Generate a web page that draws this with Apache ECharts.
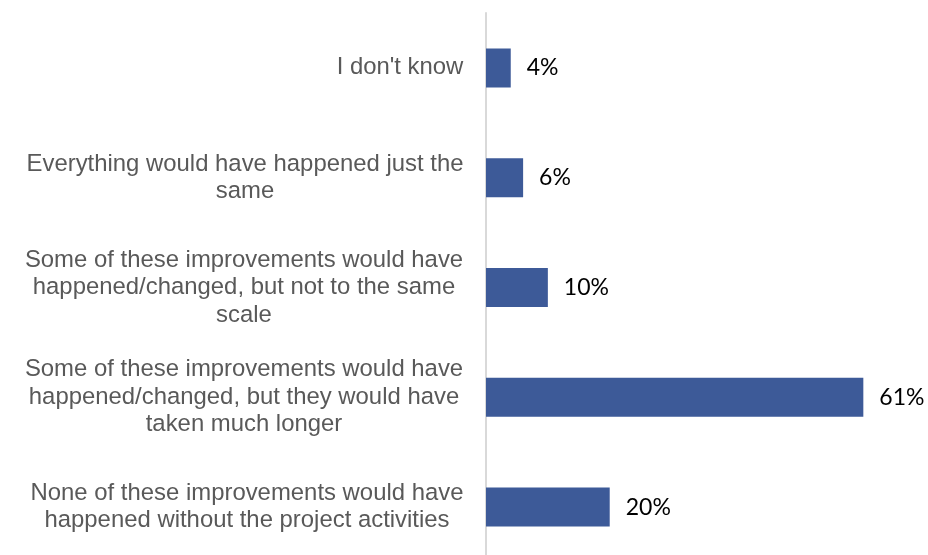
<!DOCTYPE html>
<html>
<head>
<meta charset="utf-8">
<script src="https://cdn.jsdelivr.net/npm/echarts@6/dist/echarts.min.js"></script>
<style>
  html, body { margin: 0; padding: 0; background: #ffffff; }
  #chart { width: 928px; height: 555px; }
</style>
</head>
<body>
<div id="chart"></div>
<script>
// Survey answers, top to bottom, with the line breaks used on the axis
const categories = [
  "I don't know",
  "Everything would have happened just the\nsame",
  "Some of these improvements would have\nhappened/changed, but not to the same\nscale",
  "Some of these improvements would have\nhappened/changed, but they would have\ntaken much longer",
  "None of these improvements would have\nhappened without the project activities"
];
// Share of respondents (%)
const shares = [4, 6, 10, 61, 20];

const labelFont = '"Liberation Sans", Arial, sans-serif';
const labelSize = 23.9;
const labelColor = '#595959';

// Each label block is right-aligned to the axis while its lines are centred
// inside the block, so measure the widest line of every label.
const measureCtx = document.createElement('canvas').getContext('2d');
measureCtx.font = labelSize + 'px ' + labelFont;
const rich = {};
categories.forEach(function (cat, i) {
  const widest = Math.max.apply(null, cat.split('\n').map(function (l) {
    return measureCtx.measureText(l).width;
  }));
  rich['c' + i] = {
    width: Math.ceil(widest) + 1,
    align: 'center',
    fontFamily: labelFont,
    fontSize: labelSize,
    lineHeight: 27.5,
    color: labelColor
  };
});

const chart = echarts.init(document.getElementById('chart'), null, { renderer: 'canvas' });
chart.setOption({
  animation: false,
  backgroundColor: '#ffffff',
  // the plot area runs a little past the bottom edge of the canvas
  grid: { left: 486, right: 9, top: 13, height: 549, containLabel: false, outerBoundsMode: 'none' },
  xAxis: {
    type: 'value',
    min: 0,
    max: 70,
    show: false
  },
  yAxis: {
    type: 'category',
    inverse: true,
    data: categories,
    axisLine: { show: true, lineStyle: { color: '#d9d9d9', width: 2 } },
    axisTick: { show: false },
    splitLine: { show: false },
    axisLabel: {
      margin: 22,
      align: 'right',
      interval: 0,
      formatter: function (value, index) {
        return value.split('\n').map(function (l) {
          return '{c' + index + '|' + l + '}';
        }).join('\n');
      },
      rich: rich
    }
  },
  series: [{
    type: 'bar',
    data: shares,
    barWidth: 39,
    itemStyle: { color: '#3d5a98' },
    label: {
      show: true,
      position: 'right',
      distance: 16,
      formatter: '{c}%',
      fontFamily: 'Lato, "Open Sans", sans-serif',
      fontSize: 23,
      color: '#000000'
    }
  }]
});
</script>
</body>
</html>
